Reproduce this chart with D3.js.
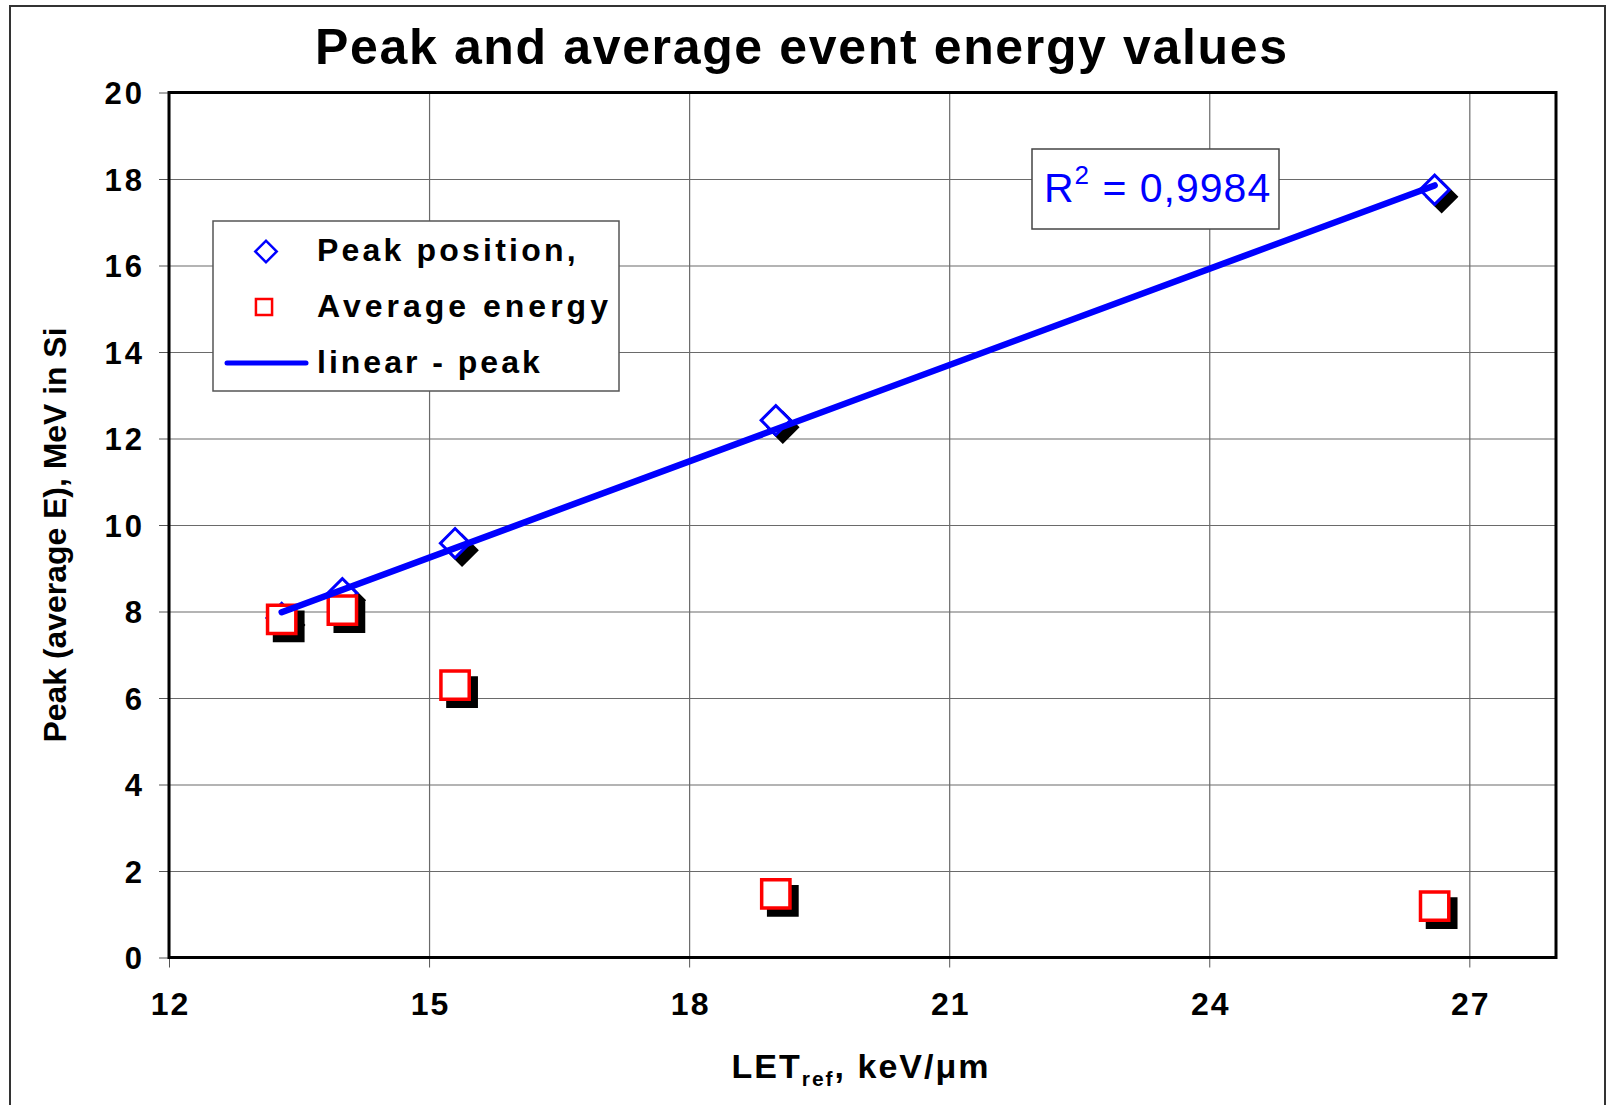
<!DOCTYPE html>
<html>
<head>
<meta charset="utf-8">
<script src="https://cdn.jsdelivr.net/npm/d3@7"></script>
<style>
  body { margin: 0; background: #fff; }
  text { font-family: "Liberation Sans", Arial, sans-serif; }
</style>
</head>
<body>
<svg id="chart"></svg>
<script>
// data
const letValues = [13.3, 14.0, 15.3, 19.0, 26.6];
const peakValues = [7.85, 8.42, 9.58, 12.42, 17.75];
const avgValues = [7.82, 8.03, 6.30, 1.47, 1.19];
const xTicks = [12, 15, 18, 21, 24, 27];
const yTicks = [0, 2, 4, 6, 8, 10, 12, 14, 16, 18, 20];
const legendLabels = ["Peak position,", "Average energy", "linear - peak"];
const rSquaredLabel = " = 0,9984";

const W = 1607, H = 1105;
const margin = { top: 92.5, right: 51, bottom: 147.5, left: 169 };
const width = W - margin.left - margin.right;
const height = H - margin.top - margin.bottom;

const root = d3.select("#chart").attr("width", W).attr("height", H);

// outer chart border
root.append("rect")
  .attr("x", 10).attr("y", 6)
  .attr("width", 1595).attr("height", 1130)
  .attr("fill", "#fff").attr("stroke", "#333").attr("stroke-width", 2);

// title
root.append("text")
  .attr("x", 801).attr("y", 64)
  .attr("text-anchor", "middle")
  .attr("font-size", 50).attr("font-weight", "bold")
  .attr("textLength", 972).attr("lengthAdjust", "spacing")
  .text("Peak and average event energy values");

const svg = root.append("g")
  .attr("transform", `translate(${margin.left},${margin.top})`);

const x = d3.scaleLinear().domain([12, 28]).range([0, width]);
const y = d3.scaleLinear().domain([0, 20]).range([height, 0]);

// grid
svg.append("g")
  .attr("class", "grid")
  .attr("transform", `translate(0,${height})`)
  .call(d3.axisBottom(x).tickValues(xTicks).tickSize(-height).tickFormat(""))
  .call(g => g.select(".domain").remove())
  .call(g => g.selectAll(".tick line").attr("stroke", "#6a6a6a").attr("stroke-width", 1.2));

svg.append("g")
  .attr("class", "grid")
  .call(d3.axisLeft(y).tickValues(yTicks).tickSize(-width).tickFormat(""))
  .call(g => g.select(".domain").remove())
  .call(g => g.selectAll(".tick line").attr("stroke", "#6a6a6a").attr("stroke-width", 1.2));

// axes
svg.append("g")
  .attr("transform", `translate(0,${height})`)
  .call(d3.axisBottom(x).tickValues(xTicks).tickSize(10).tickPadding(0).tickSizeOuter(0))
  .call(g => g.select(".domain").remove())
  .call(g => g.selectAll(".tick line").attr("stroke", "#555"))
  .call(g => g.selectAll(".tick text")
    .attr("x", 1).attr("y", 57.5).attr("dy", null)
    .attr("font-size", 32).attr("font-weight", "bold")
    .attr("letter-spacing", 2)
    .attr("font-family", "Liberation Sans, Arial, sans-serif")
    .attr("fill", "#000"));

svg.append("g")
  .call(d3.axisLeft(y).tickValues(yTicks).tickSize(10).tickPadding(0).tickSizeOuter(0))
  .call(g => g.select(".domain").remove())
  .call(g => g.selectAll(".tick line").attr("stroke", "#555"))
  .call(g => g.selectAll(".tick text")
    .attr("x", -24).attr("dy", "0.36em")
    .attr("font-size", 31).attr("font-weight", "bold")
    .attr("letter-spacing", 3)
    .attr("font-family", "Liberation Sans, Arial, sans-serif")
    .attr("fill", "#000"));

// plot frame
svg.append("rect")
  .attr("width", width).attr("height", height)
  .attr("fill", "none").attr("stroke", "#000").attr("stroke-width", 3);

// axis titles
const xt = root.append("text")
  .attr("x", 861).attr("y", 1078)
  .attr("text-anchor", "middle")
  .attr("font-size", 34).attr("font-weight", "bold")
  .attr("letter-spacing", 2);
xt.append("tspan").text("LET");
xt.append("tspan").attr("font-size", 21).attr("dy", 8).text("ref");
xt.append("tspan").attr("dy", -8).text(", keV/μm");

root.append("text")
  .attr("transform", "translate(66,535) rotate(-90)")
  .attr("text-anchor", "middle")
  .attr("font-size", 32).attr("font-weight", "bold")
  .attr("textLength", 415).attr("lengthAdjust", "spacingAndGlyphs")
  .text("Peak (average E), MeV in Si");

// markers
const peakData = letValues.map((v, i) => ({ x: v, y: peakValues[i] }));
const avgData = letValues.map((v, i) => ({ x: v, y: avgValues[i] }));

const diamond = d3.symbol().type(d3.symbolSquare).size(430);
const square = d3.symbol().type(d3.symbolSquare).size(800);
const shadow = 7;

function drawSeries(data, sym, rot, color, sw) {
  const g = svg.append("g");
  g.selectAll(".shadow").data(data).enter().append("path")
    .attr("d", sym)
    .attr("transform", d => `translate(${x(d.x) + shadow},${y(d.y) + shadow}) rotate(${rot})`)
    .attr("fill", "#000").attr("stroke", "#000").attr("stroke-width", sw);
  g.selectAll(".mark").data(data).enter().append("path")
    .attr("d", sym)
    .attr("transform", d => `translate(${x(d.x)},${y(d.y)}) rotate(${rot})`)
    .attr("fill", "#fff").attr("stroke", color).attr("stroke-width", sw);
}
drawSeries(peakData, diamond, 45, "#0000ff", 3);
drawSeries(avgData, square, 0, "#ff0000", 3.5);

// linear trend of the peak series
const mx = d3.mean(peakData, d => d.x), my = d3.mean(peakData, d => d.y);
const slope = d3.sum(peakData, d => (d.x - mx) * (d.y - my)) / d3.sum(peakData, d => (d.x - mx) ** 2);
const icpt = my - slope * mx;
const xr = d3.extent(peakData, d => d.x);
svg.append("path")
  .datum(xr.map(v => ({ x: v, y: icpt + slope * v })))
  .attr("d", d3.line().x(d => x(d.x)).y(d => y(d.y)))
  .attr("fill", "none").attr("stroke", "#0000ff")
  .attr("stroke-width", 6.5).attr("stroke-linecap", "round");

// R squared label
root.append("rect")
  .attr("x", 1032).attr("y", 149).attr("width", 247).attr("height", 80)
  .attr("fill", "#fff").attr("stroke", "#444").attr("stroke-width", 1.5);
const rt = root.append("text")
  .attr("x", 1044).attr("y", 202)
  .attr("font-size", 41).attr("fill", "#0000ff")
  .attr("letter-spacing", 1);
rt.append("tspan").text("R");
rt.append("tspan").attr("font-size", 26).attr("dy", -18).text("2");
rt.append("tspan").attr("dy", 18).text(rSquaredLabel);

// legend
const lg = root.append("g");
lg.append("rect")
  .attr("x", 213).attr("y", 221).attr("width", 406).attr("height", 170)
  .attr("fill", "#fff").attr("stroke", "#555").attr("stroke-width", 1.5);
const rowY = [251.5, 307, 363];
const rowSpacing = [3.2, 4.0, 3.0];
lg.append("path")
  .attr("d", d3.symbol().type(d3.symbolSquare).size(230))
  .attr("transform", `translate(266,${rowY[0]}) rotate(45)`)
  .attr("fill", "#fff").attr("stroke", "#0000ff").attr("stroke-width", 2.5);
lg.append("path")
  .attr("d", d3.symbol().type(d3.symbolSquare).size(260))
  .attr("transform", `translate(264,${rowY[1]})`)
  .attr("fill", "#fff").attr("stroke", "#ff0000").attr("stroke-width", 2.5);
lg.append("line")
  .attr("x1", 227).attr("x2", 306).attr("y1", rowY[2]).attr("y2", rowY[2])
  .attr("stroke", "#0000ff").attr("stroke-width", 5).attr("stroke-linecap", "round");
lg.selectAll(".lt").data(legendLabels).enter().append("text")
  .attr("x", 317).attr("y", (d, i) => rowY[i] + 9.5)
  .attr("font-size", 32).attr("font-weight", "bold")
  .attr("letter-spacing", (d, i) => rowSpacing[i])
  .text(d => d);
</script>
</body>
</html>
